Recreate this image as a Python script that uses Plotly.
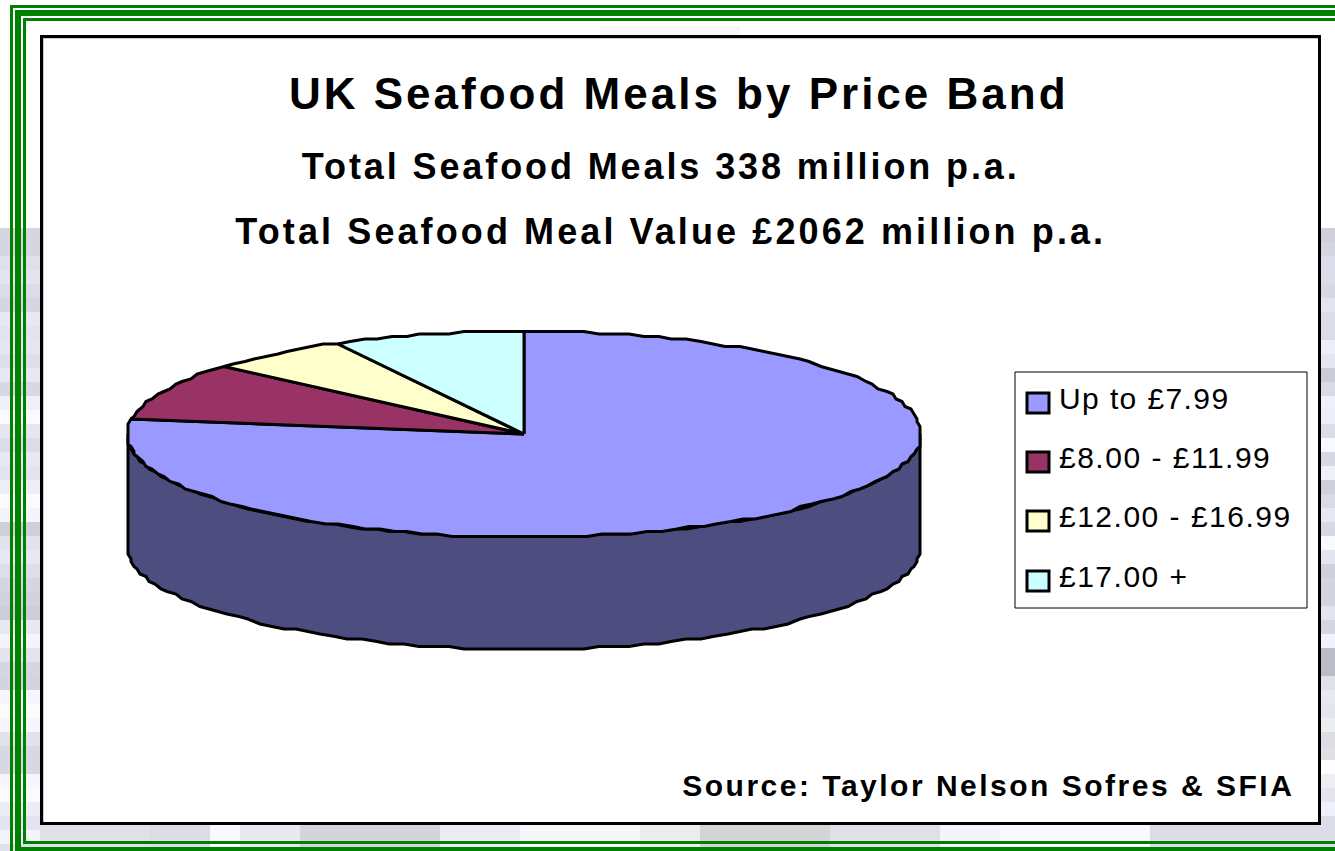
import numpy as np
import plotly.graph_objects as go

# ---------- data ----------
categories = ["Up to £7.99", "£8.00 - £11.99", "£12.00 - £16.99", "£17.00 +"]
shares = [77.2, 9.2, 5.8, 7.8]
slice_colors = ["#9999FF", "#993366", "#FFFFCC", "#CCFFFF"]
title_lines = [
    "UK Seafood Meals by Price Band",
    "Total Seafood Meals 338 million p.a.",
    "Total Seafood Meal Value £2062 million p.a.",
]
source_text = "Source: Taylor Nelson Sofres & SFIA"

# background band tints (14 px rows from y=228)
left_band = ["d6d6e0","d6d6e2","e0e0ec","e4e4ef","dcdce8","d6d6e2","e8e8f2","e4e4ee","e6e6f0","dfdfea",
             "e8e8f2","d8d8e2","f0f0f8","fbfbff","e6e6f0","dcdce6","e8e8f2","e4e4ee","eeeef6","fafaff",
             "f4f4fb","cfcfd8","e2e2ec","e8e8f2","dedee8","d6d6e0","d2d2dc","cdcdd8","e8e8f0","f4f4fa",
             "e4e4ee","d6d6e0","d4d4de","f6f6fc","fcfcff","f6f6fc","e2e2ea","d8d8e2","d8d8e2","f6f6fc",
             "fbfbff","ececf4","e4e4ee","f4f4fb","e0e0ea"]
right_band = ["d0d0dc","d4d4e2","dcdcea","dcdcea","d8d8e4","e4e4f0","dcdce6","dcdce6","eeeef8","e6e6f2",
              "ccccd8","dadae6","f0f0fc","eeeefa","dcdce4","f8f8ff","d8d8e4","f0f0f8","d0d0da","dadae6",
              "e8e8f2","d8d8e4","f8f8ff","e4e4f0","d0d0dc","d4d4e0","d4d4e0","e4e4f0","d6d6e2","f2f2fa",
              "bcbcc8","bcbcc8","e0e0e8","e8e8f0","e4e4ec","ecedf0","dcdde2","e0e0e4","fdfdfd","eeeef2",
              "e4e4ee","f0f0fa","dcdce6"]
bottom_edges = [40,150,210,240,300,440,520,640,700,830,940,1000,1150,1335]
bottom_band = ["e0e0e8","dcdce6","f8f8fe","e8e8f0","d4d4dc","ecedf2","f6f6fb","ecedf0","d4d4d8","e0e0e6","f4f4fc","f8f8fe","dcdce6"]

# ---------- geometry ----------
W, H = 1335, 851
CX, CY, RX, RY, DEPTH = 524.0, 434.0, 397.0, 103.0, 112.0


def rim(t0, t1, dy=0.0):
    n = max(2, int(abs(t1 - t0) / np.radians(2.2)) + 2)
    t = np.linspace(t0, t1, n)
    x = RX * np.sin(t)
    y = -RY * np.cos(t) + dy
    return CX + np.round(x / 3) * 3, CY + np.round(y / 2.5) * 2.5


LINE = dict(color="black", width=3, simplify=False)
fig = go.Figure()

# side wall
xa, ya = rim(np.pi / 2, 3 * np.pi / 2)
xb, yb = rim(3 * np.pi / 2, np.pi / 2, DEPTH)
fig.add_trace(go.Scatter(
    x=np.r_[xa, xb, xa[0]], y=np.r_[ya, yb, ya[0]], mode="lines", fill="toself",
    fillcolor="#4D4D80", line=LINE, hoverinfo="skip", showlegend=False))

# slices, clockwise from twelve o'clock
edges = np.r_[0, np.cumsum(shares)] / np.sum(shares) * 2 * np.pi
for name, color, t0, t1 in zip(categories, slice_colors, edges[:-1], edges[1:]):
    xr, yr = rim(t0, t1)
    fig.add_trace(go.Scatter(
        x=np.r_[CX, xr, CX], y=np.r_[CY, yr, CY], mode="lines", fill="toself", name=name,
        fillcolor=color, line=LINE, showlegend=False))

shapes = []


def rect(x0, y0, x1, y1, fill, line=None, lw=0):
    shapes.append(dict(type="rect", xref="x", yref="y", x0=x0, y0=y0, x1=x1, y1=y1, layer="below",
                       fillcolor=fill, line=dict(color=line or fill, width=lw)))


ROW = 14
for i, c in enumerate(left_band):
    rect(0, 228 + i * ROW, 40, 228 + (i + 1) * ROW, "#" + c)
for i, c in enumerate(right_band):
    rect(1321, 228 + i * ROW, W, 228 + (i + 1) * ROW, "#" + c)
for x0, x1, c in zip(bottom_edges[:-1], bottom_edges[1:], bottom_band):
    rect(x0, 825, x1, H, "#" + c)
rect(600, 26, 740, 35, "#f6f6fb")

GREEN = "#008000"
rect(10, 5, 13, H, GREEN)
rect(10, 5, W, 8, GREEN)
rect(15, 10, 21, H, GREEN)
rect(15, 10, W, 16, GREEN)
rect(23, 18, 26, 844, GREEN)
rect(23, 18, W, 21, GREEN)
rect(23, 841, W, 844, GREEN)
rect(15, 847, W, H, GREEN)

# chart panel
rect(40, 35, 1321, 825, "#000000")
rect(43, 38, 1318, 822, "#c8c8c8")
rect(44, 39, 1318, 822, "#ffffff")

# legend box
rect(1015, 372, 1307, 608, "#ffffff", "#000000", 1)
swatch_tops = [393, 452, 511, 571]
for top, color in zip(swatch_tops, slice_colors):
    rect(1027, top, 1049, top + 20, color, "#000000", 3)

FONT = "Liberation Sans, Arial, sans-serif"
annotations = []


def label(text, x, y, size, bold=True, anchor="center"):
    annotations.append(dict(text=f"<b>{text}</b>" if bold else text, x=x, y=y, xref="x", yref="y",
                            showarrow=False, xanchor=anchor, yanchor="middle", align=anchor,
                            font=dict(family=FONT, size=size, color="black")))


label(title_lines[0], 679, 93, 44)
label(title_lines[1], 660, 166, 36)
label(title_lines[2], 671, 231, 36)
label(source_text, 988.5, 785, 30)
for name, yc in zip(categories, [398, 457, 516, 576]):
    label(name, 1057, yc, 30, bold=False, anchor="left")

fig.update_layout(
    width=W, height=H, margin=dict(l=0, r=0, t=0, b=0), autosize=False,
    paper_bgcolor="white", plot_bgcolor="white", showlegend=False,
    xaxis=dict(range=[0, W], visible=False, fixedrange=True),
    yaxis=dict(range=[H, 0], visible=False, fixedrange=True),
    shapes=shapes, annotations=annotations, font=dict(family=FONT),
)

post = """
document.body.style.margin = '0';
document.body.style.overflow = 'hidden';
var spacing = [3.0, 2.9, 3.1, 2.5, 1.4, 1.5, 1.5, 1.5];
document.querySelectorAll('.annotation-text').forEach(function (el, i) {
  el.style.letterSpacing = spacing[i] + 'px';
});
"""
fig.write_html("out.html", post_script=post, config={"displayModeBar": False})
